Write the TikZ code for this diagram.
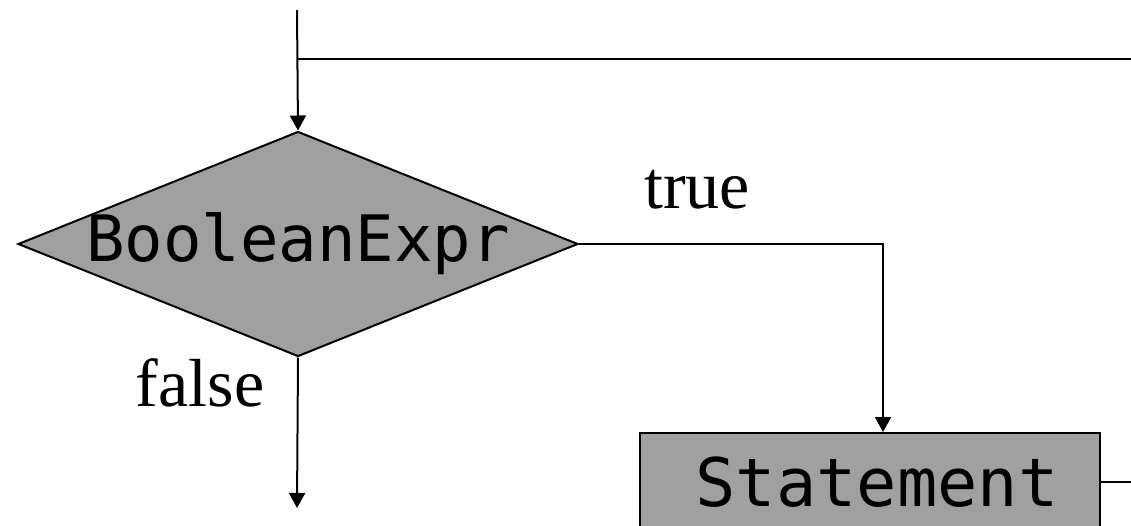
\documentclass[tikz,border=0pt]{standalone}
\usepackage{fontspec}
\setmainfont{Liberation Serif}
\setmonofont{DejaVu Sans Mono}
\usetikzlibrary{arrows.meta,calc,shapes.geometric}
\definecolor{boxgray}{RGB}{160,160,160}

\begin{document}
\begin{tikzpicture}[x=1pt,y=-1pt,line width=2pt,
    flow/.style={-{Triangle[length=15pt,width=16pt]}},
    decision/.style={diamond,draw,fill=boxgray,inner sep=0pt,shape aspect=2.49,
      minimum width=560pt,minimum height=225pt,
      font=\ttfamily\fontsize{64}{66}\selectfont},
    block/.style={rectangle,draw,fill=boxgray,inner sep=0pt,
      minimum width=460pt,minimum height=98pt,
      font=\ttfamily\fontsize{67}{70}\selectfont},
    branch/.style={font=\fontsize{68}{70}\selectfont}]
    \useasboundingbox (0,0) rectangle (1131,526);

    % loop test and body
    \node[decision] (cond) at (298,244) {\makebox[400pt]{BooleanExpr}};
    \node[block] (body) at (870,482) {\hspace*{14pt}Statement};

    \coordinate (in) at (297,10);
    \coordinate (loop) at (297,59);
    \coordinate (back) at (1131,59);
    \coordinate (out) at (297,508);
    \coordinate (next) at (1131,482);

    \node[branch] (t) at (697,190) {true};
    \node[branch] (f) at (200,383) {false};

    \draw[flow] (in) -- (cond.north);
    \draw (loop) -- (back);
    \draw[flow] (cond.east) -| ($(body.north)+(13,0)$);
    \draw[flow] (cond.south) -- (out);
    \draw (body.east) -- (next);
\end{tikzpicture}
\end{document}
